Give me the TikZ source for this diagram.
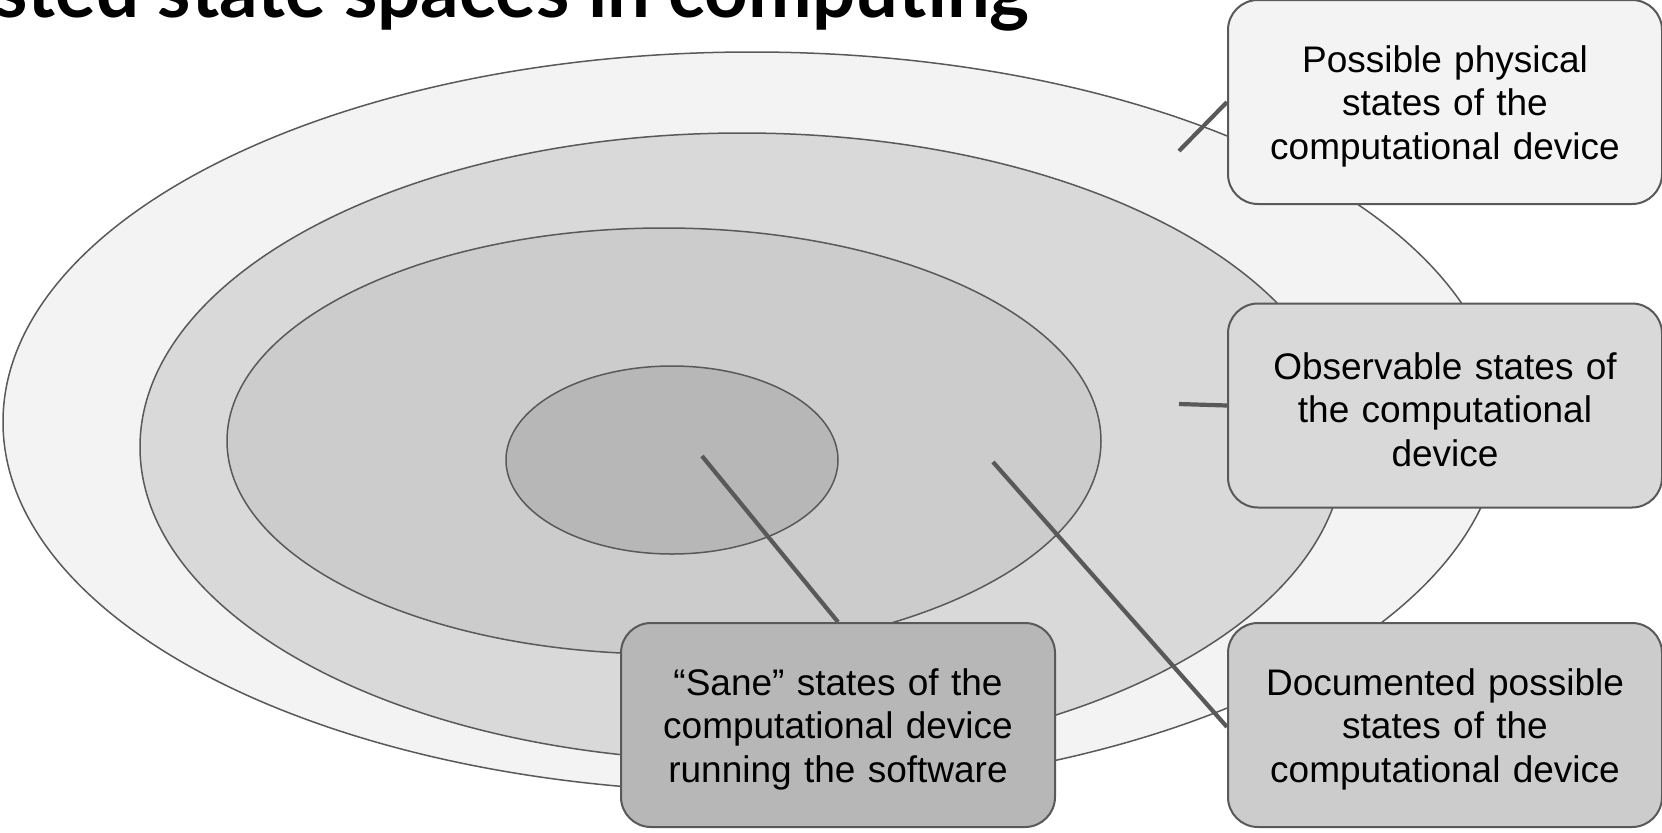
\documentclass[tikz,border=0pt]{standalone}
\usepackage{fontspec}
\setmainfont{Liberation Sans}
\newfontfamily\titlefont{Lato}
\definecolor{edge}{HTML}{595959}
\definecolor{lvlA}{HTML}{F3F3F3}
\definecolor{lvlB}{HTML}{D9D9D9}
\definecolor{lvlC}{HTML}{CCCCCC}
\definecolor{lvlD}{HTML}{B7B7B7}
\tikzset{
  region/.style={draw=edge, line width=0.75pt},
  label box/.style={draw=edge, line width=1pt, rounded corners=15pt,
    minimum width=217pt, minimum height=102pt, text width=210pt,
    align=center, inner sep=0pt,
    execute at begin node={\rule{0pt}{17.5pt}},
    font=\fontsize{18.5pt}{21.75pt}\selectfont},
  leader/.style={draw=edge, line width=2.1pt},
}
\begin{document}
\begin{tikzpicture}[x=0.5pt, y=-0.5pt]
\useasboundingbox (0,0) rectangle (1662,832);
\clip (0,0) rectangle (1662,832);
\fill[white] (0,0) rectangle (1662,832);

% title, partly beyond the page edge
\node[anchor=base east, inner sep=0pt, font=\titlefont\bfseries\fontsize{38pt}{44pt}\selectfont]
  (title) at (1030,17) {Nested state spaces in computing};

% nested state-space regions
\draw[region, fill=lvlA] (752,422) ellipse [x radius=749, y radius=370];
\draw[region, fill=lvlB] (742,447) ellipse [x radius=602, y radius=314];
\draw[region, fill=lvlC] (664,441) ellipse [x radius=437, y radius=213];
\draw[region, fill=lvlD] (672,460) ellipse [x radius=166, y radius=94];

% labels
\node[label box, fill=lvlA] (phys) at (1445,102)
  {Possible physical\\ states of the\\ computational device};
\node[label box, fill=lvlB] (obs) at (1445,405.5)
  {Observable states of\\ the computational\\ device};
\node[label box, fill=lvlC] (doc) at (1445,725)
  {Documented possible\\ states of the\\ computational device};
\node[label box, fill=lvlD] (sane) at (838,725)
  {``Sane'' states of the\\ computational device\\ running the software};

% leader lines
\coordinate (pA) at (1179,151);
\coordinate (pB) at (1179,404);
\coordinate (pC) at (993,462);
\coordinate (pD) at (702,456);
\draw[leader] (pA) -- (phys.west);
\draw[leader] (pB) -- (obs.west);
\draw[leader] (pC) -- ([yshift=-1pt]doc.west);
\draw[leader] (pD) -- (sane.north);
\end{tikzpicture}
\end{document}
